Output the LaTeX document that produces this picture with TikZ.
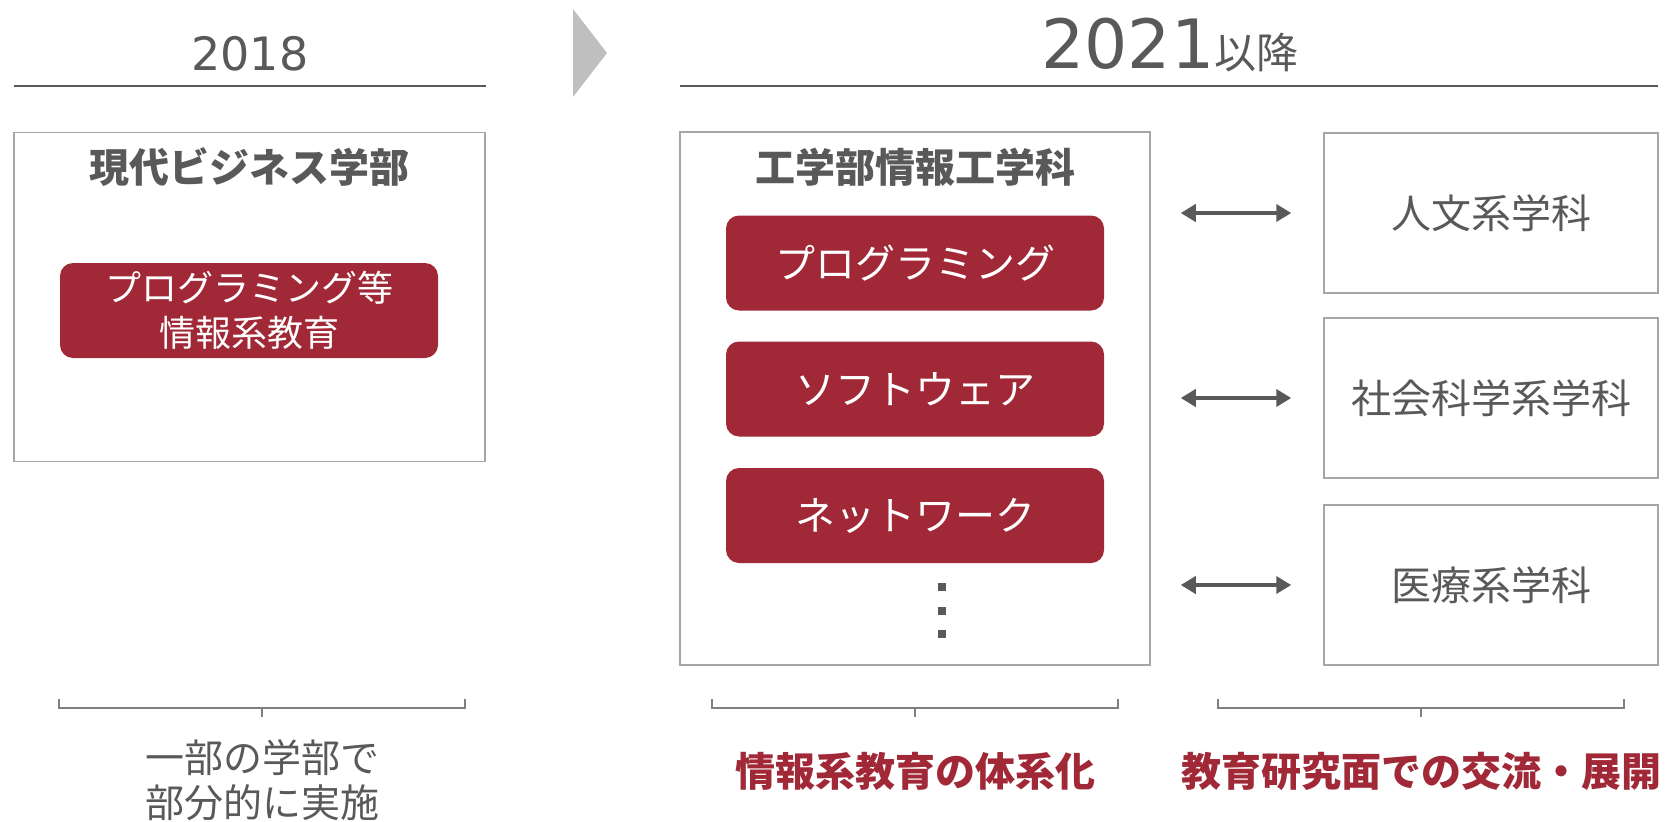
\documentclass[tikz,border=0pt]{standalone}
\usepackage{fontspec}
\setmainfont{Noto Sans CJK JP}
\newfontfamily\dv{DejaVu Sans}
\usetikzlibrary{arrows.meta}
\definecolor{txtgray}{RGB}{89,89,89}
\definecolor{boxgray}{RGB}{166,166,166}
\definecolor{chev}{RGB}{191,191,191}
\definecolor{wine}{RGB}{160,40,55}
\definecolor{brgray}{RGB}{127,127,127}
\tikzset{
  frame/.style={draw=boxgray, line width=1.5pt, fill=white, inner sep=0pt},
  redbox/.style={fill=wine, rounded corners=13pt, text=white, inner sep=0pt,
    minimum width=378pt, minimum height=95pt, font=\fontsize{40}{48}\selectfont},
  title/.style={text=txtgray, inner sep=0pt, font=\bfseries\fontsize{40}{48}\selectfont},
  sidebox/.style={frame, minimum width=334pt, minimum height=160pt, text=txtgray,
    font=\fontsize{40}{48}\selectfont},
  rule/.style={draw=txtgray, line width=2.5pt},
  bracket/.style={draw=brgray, line width=1.5pt},
  dbl/.style={draw=txtgray, line width=4pt,
    {Triangle[width=17pt,length=15pt]}-{Triangle[width=17pt,length=15pt]},
    shorten <=30pt, shorten >=32pt},
  dotsq/.style={fill=txtgray, inner sep=0pt, minimum size=8pt},
  redtext/.style={text=wine, inner sep=0pt, font=\bfseries\fontsize{40}{48}\selectfont},
}
\begin{document}
\begin{tikzpicture}[x=1pt,y=-1pt]
\useasboundingbox (0,0) rectangle (1674,822);

% headers
\node[anchor=base, text=txtgray, inner sep=0pt, font=\dv\fontsize{46}{52}\selectfont] (h2018) at (250,70) {2018};
\draw[rule] (14,86) -- (486,86);
\fill[chev] (573,9) -- (607,53) -- (573,97) -- cycle;
\node[anchor=base, text=txtgray, inner sep=0pt] (h2021) at (1170,68)
  {{\dv\fontsize{68}{76}\selectfont 2021}{\fontsize{42}{50}\selectfont 以降}};
\draw[rule] (680,86) -- (1658,86);

% left
\node[frame, minimum width=471pt, minimum height=329pt] (lbox) at (249.5,297) {};
\node[title] (ltitle) at (249,167) {現代ビジネス学部};
\node[redbox, align=center, font=\fontsize{36}{45}\selectfont] (lred) at (249,310.5)
  {プログラミング等\\情報系教育};

% middle
\node[frame, minimum width=470pt, minimum height=533pt] (mbox) at (915,398.5) {};
\node[title] (mtitle) at (915,167) {工学部情報工学科};
\node[redbox] (m1) at (915,263) {プログラミング};
\node[redbox] (m2) at (915,389) {ソフトウェア};
\node[redbox] (m3) at (915,515.5) {ネットワーク};
\node[dotsq] (d1) at (942,587) {};
\node[dotsq] (d2) at (942,611) {};
\node[dotsq] (d3) at (942,634) {};

% right
\node[sidebox] (r1) at (1491,213) {人文系学科};
\node[sidebox] (r2) at (1491,398) {社会科学系学科};
\node[sidebox] (r3) at (1491,585) {医療系学科};

\draw[dbl] (mbox.east |- r1.west) -- (r1.west);
\draw[dbl] (mbox.east |- r2.west) -- (r2.west);
\draw[dbl] (mbox.east |- r3.west) -- (r3.west);

% brackets
\draw[bracket] (59,699) -- (59,708) -- (465,708) -- (465,699);
\draw[bracket] (262,708) -- (262,717);
\draw[bracket] (712,699) -- (712,708) -- (1118,708) -- (1118,699);
\draw[bracket] (915,708) -- (915,717);
\draw[bracket] (1218,699) -- (1218,708) -- (1624,708) -- (1624,699);
\draw[bracket] (1421,708) -- (1421,717);

% bottom texts
\node[text=txtgray, inner sep=0pt, align=center, font=\fontsize{39}{45}\selectfont] (b1) at (262,780.5)
  {一部の学部で\\部分的に実施};
\node[redtext] (b2) at (915,771) {情報系教育の体系化};
\node[redtext] (b3) at (1421,771) {教育研究面での交流・展開};
\end{tikzpicture}
\end{document}
